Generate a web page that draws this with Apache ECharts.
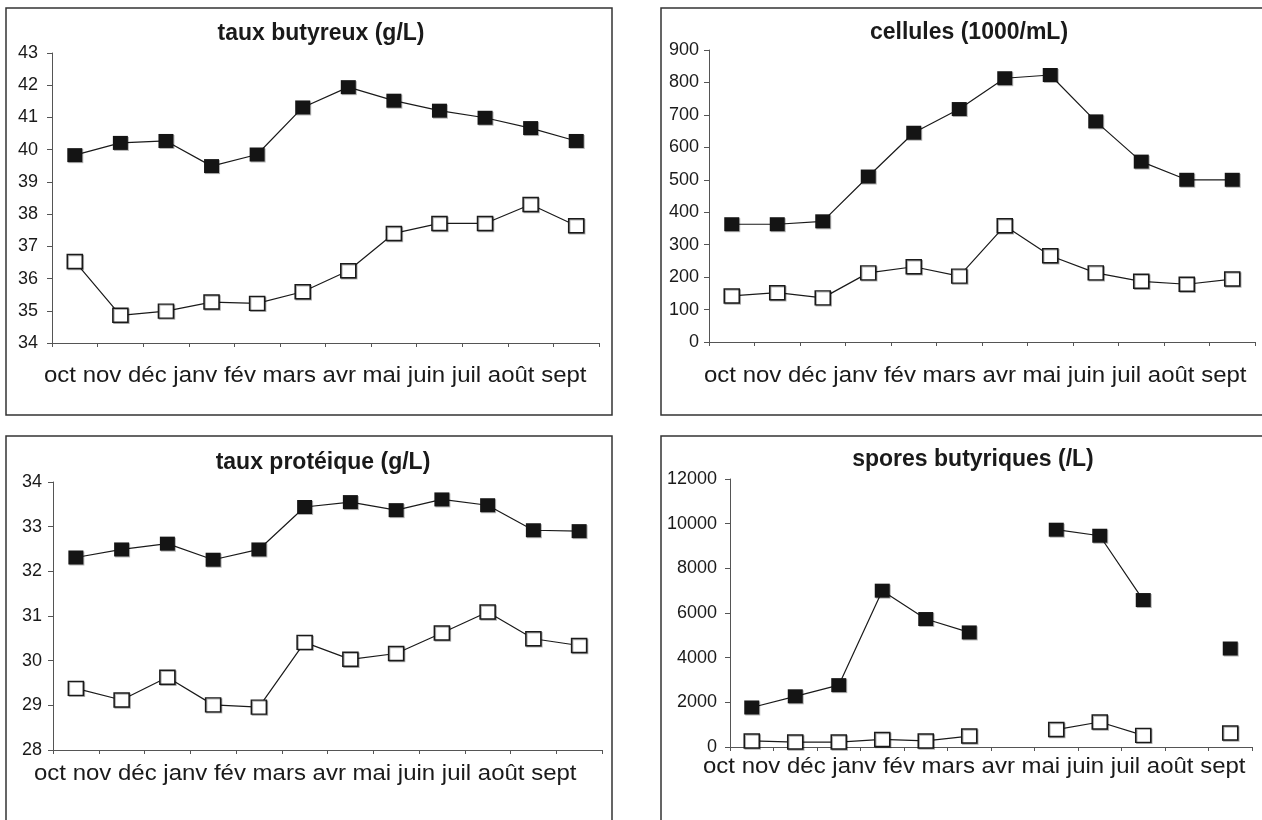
<!DOCTYPE html>
<html>
<head>
<meta charset="utf-8">
<script src="https://cdn.jsdelivr.net/npm/echarts@6/dist/echarts.min.js"></script>
<style>
html,body{margin:0;padding:0;background:#fff;}
#chart{width:1262px;height:820px;}
</style>
</head>
<body>
<div id="chart"></div>
<script>
// ---- data ----
const months = ['oct','nov','déc','janv','fév','mars','avr','mai','juin','juil','août','sept'];
const titles = ['taux butyreux (g/L)', 'cellules (1000/mL)', 'taux protéique (g/L)', 'spores butyriques (/L)'];

const butyreuxBlack = [39.83, 40.21, 40.27, 39.49, 39.85, 41.31, 41.94, 41.52, 41.21, 40.99, 40.67, 40.27];
const butyreuxWhite = [36.53, 34.86, 34.99, 35.27, 35.23, 35.59, 36.24, 37.40, 37.71, 37.71, 38.30, 37.64];

const cellulesBlack = [363, 363, 372, 510, 645, 718, 813, 823, 680, 556, 500, 500];
const cellulesWhite = [142, 152, 136, 213, 232, 203, 358, 266, 213, 187, 178, 194];

const proteiqueBlack = [32.31, 32.49, 32.62, 32.26, 32.49, 33.44, 33.55, 33.37, 33.61, 33.48, 32.92, 32.90];
const proteiqueWhite = [29.38, 29.12, 29.63, 29.01, 28.96, 30.41, 30.03, 30.16, 30.62, 31.09, 30.49, 30.34];

const sporesBlack = [1770, 2270, 2770, 7000, 5730, 5130, null, 9730, 9460, 6580, null, 4410];
const sporesWhite = [270, 220, 220, 340, 270, 490, null, 780, 1120, 520, null, 630];

const yMin = [34, 0, 28, 0];
const yMax = [43, 900, 34, 12000];
const yStep = [1, 100, 1, 2000];

// ---- layout ----
const blackSeries = [butyreuxBlack, cellulesBlack, proteiqueBlack, sporesBlack];
const whiteSeries = [butyreuxWhite, cellulesWhite, proteiqueWhite, sporesWhite];
const grids = [
  {left: 52, top: 53, width: 547, height: 290},
  {left: 709, top: 50, width: 546, height: 292},
  {left: 53, top: 482, width: 549, height: 268},
  {left: 730, top: 479, width: 522, height: 268}
];
const labelMargin = [14, 10, 11, 13];
const titlePos = [[321, 22.5], [969, 21], [323, 451], [973, 448]];
const monthTextPos = [[44, 376], [704, 376], [34, 774], [703, 767]];
const frames = [
  {x: 6, y: 8, width: 606, height: 407},
  {x: 661, y: 8, width: 700, height: 407},
  {x: 6, y: 436, width: 606, height: 500},
  {x: 661, y: 436, width: 700, height: 500}
];

const FONT = '"Liberation Sans", Arial, sans-serif';
const AX = '#555';

const option = {
  backgroundColor: '#fff',
  animation: false,
  title: titles.map((t, i) => ({
    text: t,
    left: titlePos[i][0],
    top: titlePos[i][1],
    padding: 0,
    textAlign: 'center',
    textVerticalAlign: 'top',
    textStyle: {fontFamily: FONT, fontSize: 23, fontWeight: 'bold', color: '#1a1a1a'}
  })),
  grid: grids.map(g => Object.assign({containLabel: false, outerBoundsMode: 'none'}, g)),
  xAxis: grids.map((g, i) => ({
    type: 'category',
    gridIndex: i,
    data: months,
    boundaryGap: true,
    axisLine: {show: true, lineStyle: {color: AX, width: 1}},
    axisTick: {show: true, length: 4, interval: 0, lineStyle: {color: AX}},
    axisLabel: {show: false},
    splitLine: {show: false}
  })),
  yAxis: grids.map((g, i) => ({
    type: 'value',
    gridIndex: i,
    min: yMin[i],
    max: yMax[i],
    interval: yStep[i],
    axisLine: {show: true, lineStyle: {color: AX, width: 1}},
    axisTick: {show: true, length: 5, lineStyle: {color: AX}},
    axisLabel: {show: true, margin: labelMargin[i], fontFamily: FONT, fontSize: 18, color: '#1a1a1a',
      formatter: v => String(v)},
    splitLine: {show: false}
  })),
  series: [],
  graphic: []
};

for (let i = 0; i < 4; i++) {
  option.series.push({
    type: 'line', xAxisIndex: i, yAxisIndex: i,
    data: blackSeries[i],
    connectNulls: false,
    symbol: 'rect', symbolSize: [15, 14],
    lineStyle: {color: '#1a1a1a', width: 1.2},
    itemStyle: {color: '#141414', borderWidth: 0, shadowColor: 'rgba(0,0,0,0.3)', shadowOffsetX: 1, shadowOffsetY: 1},
    z: 3
  });
  option.series.push({
    type: 'line', xAxisIndex: i, yAxisIndex: i,
    data: whiteSeries[i],
    connectNulls: false,
    symbol: 'rect', symbolSize: [15, 14],
    lineStyle: {color: '#1a1a1a', width: 1.2},
    itemStyle: {color: '#ffffff', borderColor: '#1a1a1a', borderWidth: 1.5, shadowColor: 'rgba(0,0,0,0.3)', shadowOffsetX: 1, shadowOffsetY: 1},
    z: 3
  });
  option.graphic.push({
    type: 'rect', silent: true, z: 0,
    shape: frames[i],
    style: {fill: 'none', stroke: '#333', lineWidth: 1.5}
  });
  option.graphic.push({
    type: 'text', silent: true,
    x: monthTextPos[i][0], y: monthTextPos[i][1],
    scaleX: 1.09,
    style: {
      text: months.join(' '),
      x: 0, y: 0,
      fontFamily: FONT, fontSize: 22, fill: '#1a1a1a',
      align: 'left', verticalAlign: 'middle'
    }
  });
}

const chart = echarts.init(document.getElementById('chart'), null, {renderer: 'canvas'});
chart.setOption(option);
</script>
</body>
</html>
